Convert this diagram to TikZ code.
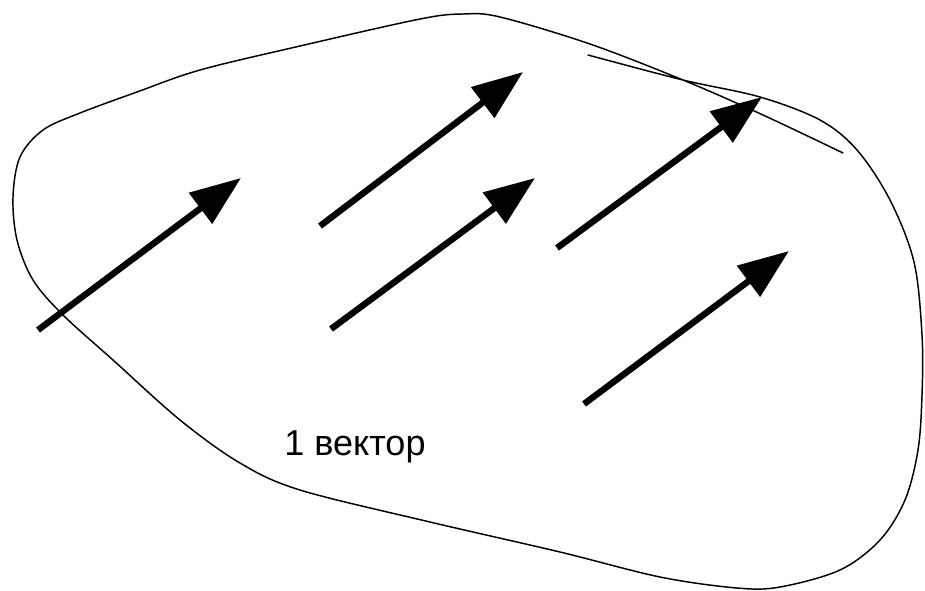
\documentclass[tikz,border=0pt]{standalone}
\usepackage{fontspec}
\setmainfont{Liberation Sans}
\usetikzlibrary{arrows.meta}
\tikzset{
  vec/.style={line width=4.8pt, -{Triangle[length=38pt,width=28pt]}},
  outline/.style={line width=1.1pt, line cap=round, line join=round},
}
\begin{document}
\begin{tikzpicture}[x=0.75pt,y=-0.75pt]
\useasboundingbox (0,0) rectangle (925,590);
% freehand region outline (ends overlap)
\draw[outline] plot[smooth, tension=0.55] coordinates {
  (588,55) (683,80) (760,97) (820,120) (857,150) (890,200) (914,262) (922,335)
  (922,395) (918,450) (905,500) (880,540) (840,570) (780,587) (737,588)
  (660,577) (560,552) (430,522)
  (300,490) (240,463) (180,420) (113,360) (63,315) (33,280) (17,240) (13,197)
  (20,157) (43,130) (80,113) (137,92) (200,70) (300,46) (420,19) (463,14) (500,17)
  (590,44) (683,80) (763,115) (843,153)};
% vectors
\coordinate (t1) at (38,330);  \coordinate (h1) at (241,178);
\coordinate (t2) at (320,226); \coordinate (h2) at (523,72);
\coordinate (t3) at (331,329); \coordinate (h3) at (535,178);
\coordinate (t4) at (557,248); \coordinate (h4) at (762,97);
\coordinate (t5) at (584,404); \coordinate (h5) at (789,251);
\draw[vec] (t1) -- (h1);
\draw[vec] (t2) -- (h2);
\draw[vec] (t3) -- (h3);
\draw[vec] (t4) -- (h4);
\draw[vec] (t5) -- (h5);
\node[font=\fontsize{27pt}{32pt}\selectfont, inner sep=0pt] (lbl) at (355,447) {1 вектор};
\end{tikzpicture}
\end{document}
